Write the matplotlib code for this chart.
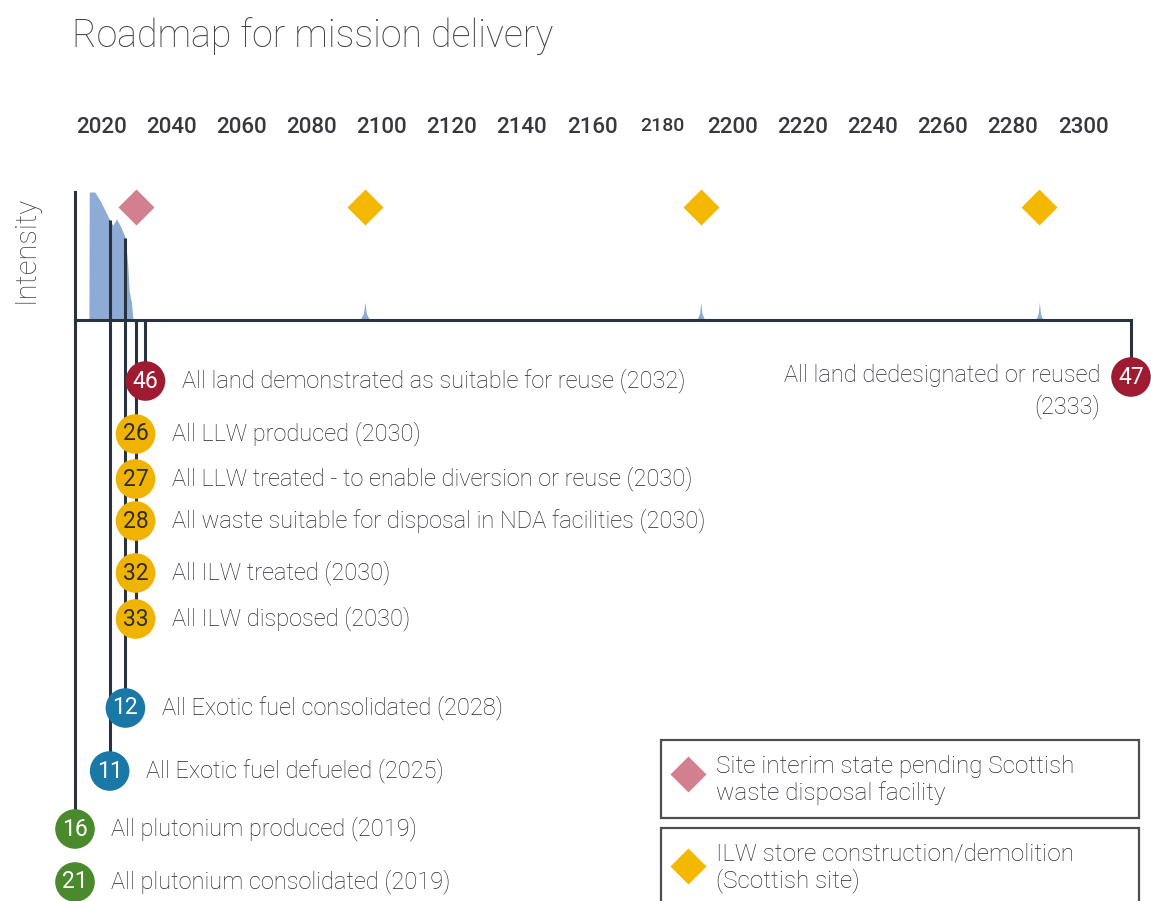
import numpy as np
import matplotlib
matplotlib.use("Agg")
import matplotlib.pyplot as plt
from matplotlib.patches import Rectangle
from matplotlib.lines import Line2D
from matplotlib.scale import FuncScale

# ------------------------------------------------------------------ data
title = "Roadmap for mission delivery"
y_label = "Intensity"
tick_years = [2020, 2040, 2060, 2080, 2100, 2120, 2140, 2160, 2180,
              2200, 2220, 2240, 2260, 2280, 2300]

intensity_years = [2021.3, 2021.35, 2022.3, 2023.3, 2024.8, 2025.6, 2026.3,
                   2027.2, 2028.0, 2028.27, 2028.45, 2028.73, 2029.0, 2029.18,
                   2029.36, 2029.5,
                   2083.7, 2084.6, 2085.0, 2085.4, 2086.3,
                   2183.7, 2184.6, 2185.0, 2185.4, 2186.3,
                   2298.7, 2299.6, 2300.0, 2300.4, 2301.3]
intensity_values = [0, 100, 100, 93, 80, 74, 79,
                    72, 64, 51, 43, 23, 17, 14,
                    6, 0,
                    0, 5, 14, 5, 0,
                    0, 5, 14, 5, 0,
                    0, 5, 14, 5, 0]

interim_years = [2030]                 # site interim state (pink diamond)
store_years = [2085, 2185, 2300]       # ILW store construction/demolition

milestone_ids = ["46", "26", "27", "28", "32", "33", "12", "11", "16", "21", "47"]
milestone_years = [2032, 2030, 2030, 2030, 2030, 2030, 2028, 2025, 2019, 2019, 2333]
milestone_groups = ["land", "waste", "waste", "waste", "waste", "waste",
                    "fuel", "fuel", "pu", "pu", "land"]
milestone_texts = [
    "All land demonstrated as suitable for reuse (2032)",
    "All LLW produced (2030)",
    "All LLW treated - to enable diversion or reuse (2030)",
    "All waste suitable for disposal in NDA facilities (2030)",
    "All ILW treated (2030)",
    "All ILW disposed (2030)",
    "All Exotic fuel consolidated (2028)",
    "All Exotic fuel defueled (2025)",
    "All plutonium produced (2019)",
    "All plutonium consolidated (2019)",
    "All land dedesignated or reused\n(2333)",
]
connector_ids = ["16", "11", "12", "33", "46", "47"]

legend_texts = ["Site interim state pending Scottish\nwaste disposal facility",
                "ILW store construction/demolition\n(Scottish site)"]

# ------------------------------------------------------------------ style / layout
W, H = 1151, 901
FONT = "Roboto"
TXT = "#25282e"
LINE = "#29333d"
AREA = "#8eabd6"
PINK = "#d27f8f"
GOLD = "#f4b800"
group_colors = {"land": "#9e1b32", "waste": "#f0b400", "fuel": "#1a78a6", "pu": "#4a8a2c"}
num_colors = {"land": "white", "waste": "#2e2e2e", "fuel": "white", "pu": "white"}
# vertical placement of each milestone row (pixels below the timeline baseline)
row_px = [61, 114, 159, 201, 253, 299, 388, 451, 509, 562, 57]

x_left_px, x_right_px = 75, 1131
base_px, top_px = 320, 192


def fx(px):
    return px / W


def fy(py):
    return 1 - py / H


fig = plt.figure(figsize=(W / 100, H / 100), dpi=100)
fig.patch.set_facecolor("white")


# compressed time axis (early years are spread out)
def fwd(x):
    return np.power(np.maximum(np.asarray(x, dtype=float) - 2014, 0), 0.8)


def inv(u):
    return 2014 + np.power(np.maximum(np.asarray(u, dtype=float), 0), 1.25)


ax = fig.add_axes([fx(x_left_px), fy(base_px), fx(x_right_px - x_left_px),
                   (base_px - top_px) / H])
ax.set_xscale(FuncScale(ax, (fwd, inv)))
ax.set_xlim(2019, 2333)
ax.set_ylim(0, 100)
ax.set_facecolor("none")
for s in ["top", "right"]:
    ax.spines[s].set_visible(False)
for s in ["left", "bottom"]:
    ax.spines[s].set_linewidth(2.2)
    ax.spines[s].set_color(LINE)
ax.set_xticks([])
ax.set_yticks([])

ax.fill_between(intensity_years, intensity_values, 0, color=AREA, lw=0, zorder=1)

ax.plot(interim_years, [88] * len(interim_years), ls="none", marker="D",
        ms=18, color=PINK, mec="none", clip_on=False, zorder=3)
ax.plot(store_years, [88] * len(store_years), ls="none", marker="D",
        ms=18, color=GOLD, mec="none", clip_on=False, zorder=3)

# lower axes for milestone rows
ax_low = fig.add_axes([fx(x_left_px), 0, fx(x_right_px - x_left_px), (H - base_px) / H],
                      sharex=ax)
ax_low.set_ylim(H - base_px, 0)
ax_low.axis("off")

id_index = {m: i for i, m in enumerate(milestone_ids)}
for cid in connector_ids:
    i = id_index[cid]
    yr = milestone_years[i]
    top_val = float(np.interp(yr, intensity_years, intensity_values, left=0, right=0))
    if top_val > 0:
        ax.vlines(yr, 0, top_val, color=LINE, lw=2.2, zorder=2)
    ax_low.vlines(yr, 0, row_px[i], color=LINE, lw=2.2, clip_on=False, zorder=2)

for i, mid in enumerate(milestone_ids):
    yr = milestone_years[i]
    g = milestone_groups[i]
    sc = ax_low.scatter([yr], [row_px[i]], s=28.5 ** 2, color=group_colors[g],
                        edgecolor="none", zorder=4)
    sc.set_clip_on(False)
    ax_low.text(yr, row_px[i], mid, ha="center", va="center", color=num_colors[g],
                fontsize=16.5, family=FONT, zorder=5, clip_on=False)
    if yr == max(milestone_years):
        ax_low.annotate(milestone_texts[i], xy=(yr, row_px[i]), xytext=(-22, -10.5),
                        textcoords="offset points", ha="right", va="center",
                        fontsize=17, family=FONT, fontweight="light", color=TXT,
                        multialignment="right", linespacing=1.35,
                        annotation_clip=False)
    else:
        ax_low.annotate(milestone_texts[i], xy=(yr, row_px[i]), xytext=(26, 0),
                        textcoords="offset points", ha="left", va="center",
                        fontsize=17, family=FONT, fontweight="light", color=TXT,
                        annotation_clip=False)

# top year labels (linear reference scale)
ax_top = fig.add_axes([fx(x_left_px), fy(117), fx(x_right_px - x_left_px), 0.0001])
px_per_year = (1083 - 101) / (2300 - 2020)
ax_top.set_xlim(2020 - (101 - x_left_px) / px_per_year,
                2300 + (x_right_px - 1083) / px_per_year)
ax_top.set_xticks(tick_years)
ax_top.set_xticklabels([str(t) for t in tick_years])
ax_top.tick_params(axis="x", length=0, pad=0)
for lab, t in zip(ax_top.get_xticklabels(), tick_years):
    lab.set_family(FONT)
    lab.set_fontweight("medium")
    lab.set_color("#35383d")
    lab.set_fontsize(14 if t == 2180 else 16)
ax_top.set_yticks([])
for s in ax_top.spines.values():
    s.set_visible(False)
ax_top.set_facecolor("none")

# title and axis label
fig.text(fx(72), fy(47), title, ha="left", va="baseline", fontsize=27,
         family=FONT, fontweight="light", color="#3f4247")
fig.text(fx(26), fy(249), y_label, ha="center", va="center", rotation=90,
         fontsize=21, family=FONT, fontweight="light", color="#3f4247")

# legend boxes
boxes = [(740, 818), (828, 940)]
marker_cols = [PINK, GOLD]
marker_dy = [-6, -2]
for (t, b), col, dy, txt in zip(boxes, marker_cols, marker_dy, legend_texts):
    fig.add_artist(Rectangle((fx(661), fy(b)), fx(1139 - 661), (b - t) / H,
                             transform=fig.transFigure, fill=False,
                             edgecolor="#4d4f52", lw=1.6))
    mid = t + 40
    fig.add_artist(Line2D([fx(688)], [fy(mid + dy)],
                          transform=fig.transFigure, marker="D", ms=18,
                          color=col, mec="none", ls="none"))
    fig.text(fx(716), fy(mid), txt, ha="left", va="center", fontsize=17.5,
             family=FONT, fontweight="light", color=TXT, linespacing=1.15)

fig.savefig("out.png", dpi=100, facecolor="white")
